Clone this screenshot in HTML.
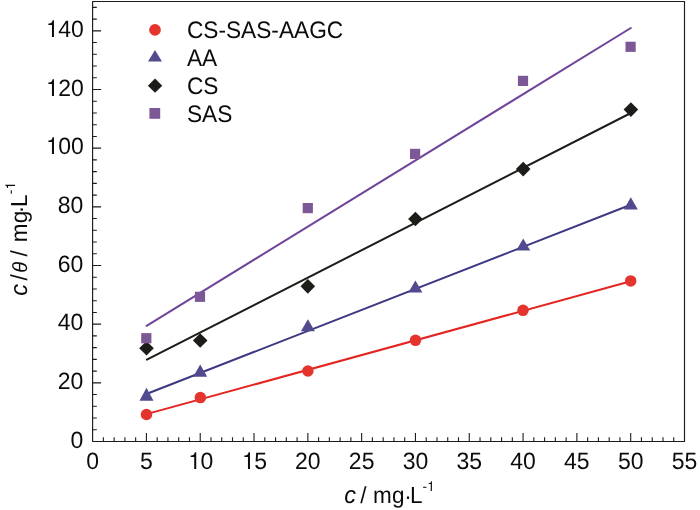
<!DOCTYPE html>
<html><head><meta charset="utf-8"><style>
html,body{margin:0;padding:0;background:#fff;}
body{width:700px;height:510px;overflow:hidden;}
svg{display:block;}
text{font-family:"Liberation Sans",Arial,sans-serif;fill:#0c0b0a;text-rendering:geometricPrecision;}
</style></head><body>
<svg width="700" height="510" viewBox="0 0 700 510">
<rect x="92.6" y="1.5" width="591.90" height="440.00" fill="none" stroke="#1d1c19" stroke-width="1.15" stroke-linejoin="round"/>
<path d="M103.36 441.50V437.30M114.12 441.50V437.30M124.89 441.50V437.30M135.65 441.50V437.30M146.41 441.50V433.00M157.17 441.50V437.30M167.93 441.50V437.30M178.69 441.50V437.30M189.46 441.50V437.30M200.22 441.50V433.00M210.98 441.50V437.30M221.74 441.50V437.30M232.50 441.50V437.30M243.27 441.50V437.30M254.03 441.50V433.00M264.79 441.50V437.30M275.55 441.50V437.30M286.31 441.50V437.30M297.07 441.50V437.30M307.84 441.50V433.00M318.60 441.50V437.30M329.36 441.50V437.30M340.12 441.50V437.30M350.88 441.50V437.30M361.65 441.50V433.00M372.41 441.50V437.30M383.17 441.50V437.30M393.93 441.50V437.30M404.69 441.50V437.30M415.45 441.50V433.00M426.22 441.50V437.30M436.98 441.50V437.30M447.74 441.50V437.30M458.50 441.50V437.30M469.26 441.50V433.00M480.03 441.50V437.30M490.79 441.50V437.30M501.55 441.50V437.30M512.31 441.50V437.30M523.07 441.50V433.00M533.83 441.50V437.30M544.60 441.50V437.30M555.36 441.50V437.30M566.12 441.50V437.30M576.88 441.50V433.00M587.64 441.50V437.30M598.41 441.50V437.30M609.17 441.50V437.30M619.93 441.50V437.30M630.69 441.50V433.00M641.45 441.50V437.30M652.21 441.50V437.30M662.98 441.50V437.30M673.74 441.50V437.30M92.60 429.77H96.80M92.60 418.03H96.80M92.60 406.30H96.80M92.60 394.57H96.80M92.60 382.83H101.10M92.60 371.10H96.80M92.60 359.37H96.80M92.60 347.63H96.80M92.60 335.90H96.80M92.60 324.17H101.10M92.60 312.43H96.80M92.60 300.70H96.80M92.60 288.97H96.80M92.60 277.23H96.80M92.60 265.50H101.10M92.60 253.77H96.80M92.60 242.03H96.80M92.60 230.30H96.80M92.60 218.57H96.80M92.60 206.83H101.10M92.60 195.10H96.80M92.60 183.37H96.80M92.60 171.63H96.80M92.60 159.90H96.80M92.60 148.17H101.10M92.60 136.43H96.80M92.60 124.70H96.80M92.60 112.97H96.80M92.60 101.23H96.80M92.60 89.50H101.10M92.60 77.77H96.80M92.60 66.03H96.80M92.60 54.30H96.80M92.60 42.57H96.80M92.60 30.83H101.10M92.60 19.10H96.80M92.60 7.37H96.80" stroke="#1d1c19" stroke-width="1.1" fill="none"/>
<text transform="translate(92.60 468.5) scale(1 1.03)" text-anchor="middle" font-size="23">0</text>
<text transform="translate(146.41 468.5) scale(1 1.03)" text-anchor="middle" font-size="23">5</text>
<text transform="translate(200.22 468.5) scale(1 1.03)" text-anchor="middle" font-size="23"><tspan dx="0.50" font-family="'TeX Gyre Heros','Liberation Sans',Arial,sans-serif">1</tspan><tspan dx="-0.50">0</tspan></text>
<text transform="translate(254.03 468.5) scale(1 1.03)" text-anchor="middle" font-size="23"><tspan dx="0.50" font-family="'TeX Gyre Heros','Liberation Sans',Arial,sans-serif">1</tspan><tspan dx="-0.50">5</tspan></text>
<text transform="translate(307.84 468.5) scale(1 1.03)" text-anchor="middle" font-size="23">20</text>
<text transform="translate(361.65 468.5) scale(1 1.03)" text-anchor="middle" font-size="23">25</text>
<text transform="translate(415.45 468.5) scale(1 1.03)" text-anchor="middle" font-size="23">30</text>
<text transform="translate(469.26 468.5) scale(1 1.03)" text-anchor="middle" font-size="23">35</text>
<text transform="translate(523.07 468.5) scale(1 1.03)" text-anchor="middle" font-size="23">40</text>
<text transform="translate(576.88 468.5) scale(1 1.03)" text-anchor="middle" font-size="23">45</text>
<text transform="translate(630.69 468.5) scale(1 1.03)" text-anchor="middle" font-size="23">50</text>
<text transform="translate(684.50 468.5) scale(1 1.03)" text-anchor="middle" font-size="23">55</text>
<text transform="translate(83.3 447.60) scale(1 1.03)" text-anchor="end" font-size="23">0</text>
<text transform="translate(83.3 388.93) scale(1 1.03)" text-anchor="end" font-size="23">20</text>
<text transform="translate(83.3 330.27) scale(1 1.03)" text-anchor="end" font-size="23">40</text>
<text transform="translate(83.3 271.60) scale(1 1.03)" text-anchor="end" font-size="23">60</text>
<text transform="translate(83.3 212.93) scale(1 1.03)" text-anchor="end" font-size="23">80</text>
<text transform="translate(83.3 154.27) scale(1 1.03)" text-anchor="end" font-size="23"><tspan dx="0.50" font-family="'TeX Gyre Heros','Liberation Sans',Arial,sans-serif">1</tspan><tspan dx="-0.50">0</tspan>0</text>
<text transform="translate(83.3 95.60) scale(1 1.03)" text-anchor="end" font-size="23"><tspan dx="0.50" font-family="'TeX Gyre Heros','Liberation Sans',Arial,sans-serif">1</tspan><tspan dx="-0.50">2</tspan>0</text>
<text transform="translate(83.3 36.93) scale(1 1.03)" text-anchor="end" font-size="23"><tspan dx="0.50" font-family="'TeX Gyre Heros','Liberation Sans',Arial,sans-serif">1</tspan><tspan dx="-0.50">4</tspan>0</text>
<line x1="146.4" y1="414.1" x2="630.7" y2="281.3" stroke="#e42420" stroke-width="2" stroke-linecap="round"/>
<line x1="146.4" y1="394.0" x2="630.8" y2="204.8" stroke="#3c3883" stroke-width="2" stroke-linecap="round"/>
<line x1="146.9" y1="359.65" x2="630.9" y2="113.0" stroke="#1d1c19" stroke-width="2" stroke-linecap="round"/>
<line x1="146.6" y1="325.8" x2="630.8" y2="28.0" stroke="#70449a" stroke-width="2" stroke-linecap="round"/>
<circle cx="146.50" cy="414.50" r="5.75" fill="#e4342e"/>
<circle cx="200.35" cy="397.60" r="5.75" fill="#e4342e"/>
<circle cx="307.90" cy="371.05" r="5.75" fill="#e4342e"/>
<circle cx="415.50" cy="340.35" r="5.75" fill="#e4342e"/>
<circle cx="523.00" cy="310.35" r="5.75" fill="#e4342e"/>
<circle cx="630.70" cy="280.90" r="5.75" fill="#e4342e"/>
<path d="M146.50 387.80L153.50 400.70L139.50 400.70Z" fill="#514a8e"/>
<path d="M200.20 364.40L207.20 376.70L193.20 376.70Z" fill="#514a8e"/>
<path d="M307.90 319.20L314.90 331.20L300.90 331.20Z" fill="#514a8e"/>
<path d="M415.40 280.60L422.40 292.60L408.40 292.60Z" fill="#514a8e"/>
<path d="M523.20 238.40L530.20 250.60L516.20 250.60Z" fill="#514a8e"/>
<path d="M630.80 197.30L637.80 209.40L623.80 209.40Z" fill="#514a8e"/>
<path d="M146.50 340.90L153.80 348.20L146.50 355.50L139.20 348.20Z" fill="#1d1c19"/>
<path d="M200.20 333.20L207.50 340.50L200.20 347.80L192.90 340.50Z" fill="#1d1c19"/>
<path d="M307.80 279.05L315.10 286.35L307.80 293.65L300.50 286.35Z" fill="#1d1c19"/>
<path d="M415.40 211.65L422.70 218.95L415.40 226.25L408.10 218.95Z" fill="#1d1c19"/>
<path d="M523.20 161.80L530.50 169.10L523.20 176.40L515.90 169.10Z" fill="#1d1c19"/>
<path d="M630.90 102.30L638.20 109.60L630.90 116.90L623.60 109.60Z" fill="#1d1c19"/>
<rect x="141.20" y="333.10" width="10.2" height="10.2" fill="#7d5896"/>
<rect x="194.90" y="291.70" width="10.2" height="10.2" fill="#7d5896"/>
<rect x="302.70" y="203.00" width="10.2" height="10.2" fill="#7d5896"/>
<rect x="410.00" y="148.80" width="10.2" height="10.2" fill="#7d5896"/>
<rect x="517.90" y="75.80" width="10.2" height="10.2" fill="#7d5896"/>
<rect x="625.50" y="41.70" width="10.2" height="10.2" fill="#7d5896"/>
<circle cx="155.00" cy="29.90" r="5.85" fill="#e4342e"/>
<path d="M155.00 49.90L162.00 61.60L148.00 61.60Z" fill="#514a8e"/>
<path d="M155.06 78.48L162.24 85.65L155.06 92.83L147.88 85.65Z" fill="#1d1c19"/>
<rect x="149.40" y="108.00" width="10.8" height="10.8" fill="#7d5896"/>
<text transform="translate(186.9 37.8) scale(1 1.05)" font-size="22.7">CS-SAS-AAGC</text>
<text transform="translate(186.9 65.5) scale(1 1.05)" font-size="22.7">AA</text>
<text transform="translate(186.9 93.8) scale(1 1.05)" font-size="22.7">CS</text>
<text transform="translate(186.9 121.5) scale(1 1.05)" font-size="22.7">SAS</text>
<text transform="translate(0 503.1) scale(1 1.03)"><tspan x="344.22" y="0.00" font-size="23.5" font-style="italic">c</tspan><tspan x="360.27" y="0.00" font-size="22.5">/</tspan><tspan x="372.97" y="0.00" font-size="22.5">m</tspan><tspan x="392.00" y="0.00" font-size="22.5">g</tspan><tspan x="404.26" y="0.80" font-size="22.5">·</tspan><tspan x="409.99" y="0.00" font-size="22.5">L</tspan><tspan x="422.60" y="-12.00" font-size="13.5">-</tspan><tspan x="427.31" y="-12.00" font-size="13.5" font-family="'TeX Gyre Heros','Liberation Sans',Arial,sans-serif">1</tspan></text>
<text transform="translate(26.85 300.0) rotate(-90) scale(1 1.03)"><tspan x="4.32" y="0.00" font-size="23.5" font-style="italic">c</tspan><tspan x="19.52" y="0.00" font-size="22.5">/</tspan><tspan x="27.37" y="0.00" font-size="20" font-style="italic">θ</tspan><tspan x="43.62" y="0.00" font-size="22.5">/</tspan><tspan x="57.82" y="0.00" font-size="22.5">m</tspan><tspan x="76.65" y="0.00" font-size="22.5">g</tspan><tspan x="86.86" y="0.80" font-size="22.5">·</tspan><tspan x="92.99" y="0.00" font-size="22.5">L</tspan><tspan x="105.85" y="-11.55" font-size="13.5">-</tspan><tspan x="110.61" y="-11.55" font-size="13.5" font-family="'TeX Gyre Heros','Liberation Sans',Arial,sans-serif">1</tspan></text>
</svg>
</body></html>
